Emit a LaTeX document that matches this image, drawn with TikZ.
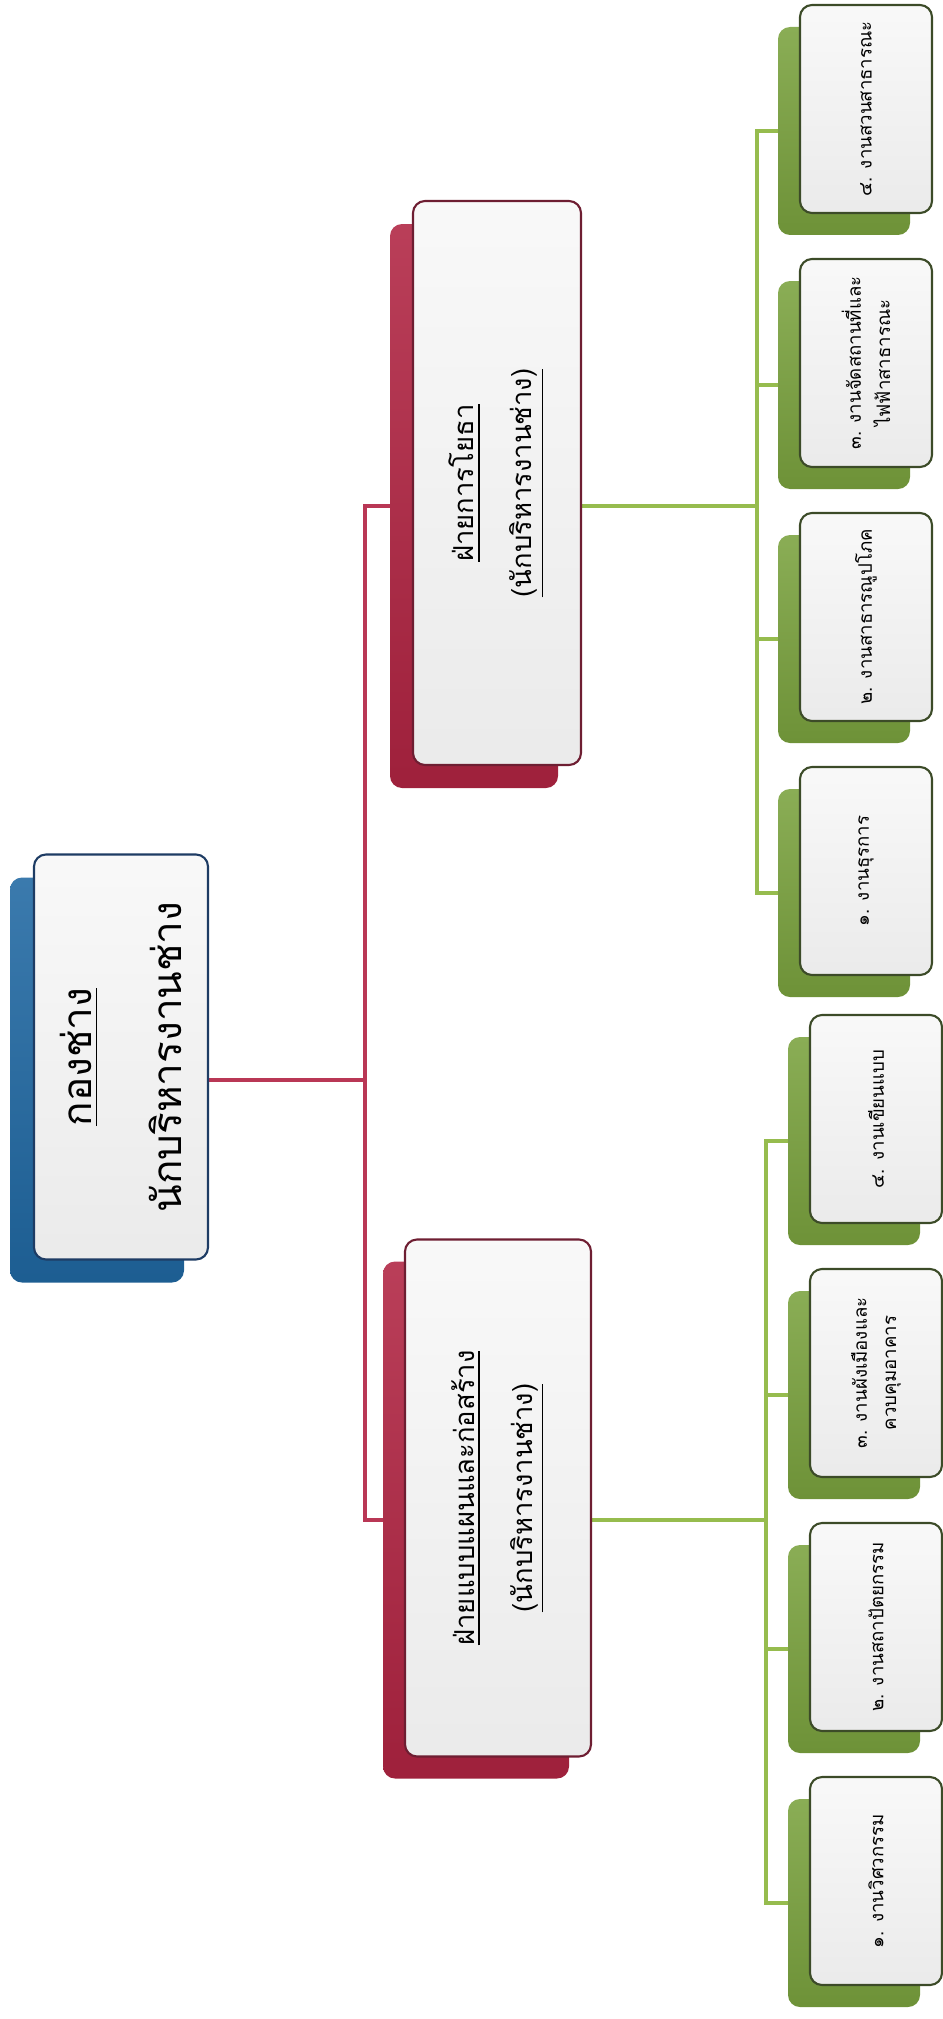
\documentclass[tikz,border=0pt]{standalone}
\usepackage{fontspec}
\setmainfont[Script=Thai]{Loma}
\usepackage{tikz}
\usetikzlibrary{positioning, backgrounds}
\definecolor{cardblue}{RGB}{32,104,162}
\definecolor{cardred}{RGB}{176,36,66}
\definecolor{cardgreen}{RGB}{122,162,62}
\definecolor{linered}{RGB}{185,55,85}
\definecolor{linegreen}{RGB}{150,188,78}
\definecolor{edgeblue}{RGB}{30,60,100}
\definecolor{edgered}{RGB}{110,30,50}
\definecolor{edgegreen}{RGB}{60,75,40}

\begin{document}
\begin{tikzpicture}[x=0.1mm, y=-0.1mm,
    backcard/.style={rectangle, rounded corners=1.2mm, rotate=90, inner sep=0pt,
      top color=#1!88!white, bottom color=#1!90!black},
    frontcard/.style={rectangle, rounded corners=1.2mm, rotate=90, inner sep=0pt,
      draw=#1, line width=0.6pt, top color=gray!5, bottom color=gray!16, align=center},
    rootsize/.style={minimum width=40.5mm, minimum height=17.4mm},
    armsize/.style={minimum width=#1, minimum height=17.4mm},
    jobsize/.style={minimum width=20.8mm, minimum height=13.2mm},
    armtext/.style={font=\fontsize{7.8}{16.5}\selectfont},
    jobtext/.style={font=\fontsize{5.3}{8.3}\selectfont}]
  \useasboundingbox (0,0) rectangle (942,2019);

  % Top box
  \node[backcard=cardblue, rootsize] (rootback) at (97,1080) {};
  \node[frontcard=edgeblue, rootsize, font=\fontsize{11.5}{25.6}\selectfont] (root) at (121,1057)
    {\underline{กองช่าง}\\นักบริหารงานช่าง};

  % Second level
  \node[backcard=cardred, armsize=56.4mm, minimum height=16.8mm] (yothaback) at (474,506) {};
  \node[frontcard=edgered, armsize=56.4mm, minimum height=16.8mm, armtext] (yotha) at (497,483)
    {\underline{ฝ่ายการโยธา}\\\underline{(นักบริหารงานช่าง)}};
  \node[backcard=cardred, armsize=51.7mm, minimum height=18.6mm] (planback) at (476,1520) {};
  \node[frontcard=edgered, armsize=51.7mm, minimum height=18.6mm, armtext] (plan) at (498,1498)
    {\underline{ฝ่ายแบบแผนและก่อสร้าง}\\\underline{(นักบริหารงานช่าง)}};

  % Work units under ฝ่ายการโยธา
  \foreach \n/\y/\txt in {1/871/{๑. งานธุรการ}, 2/617/{๒. งานสาธารณูปโภค},
      3/363/{๓. งานจัดสถานที่และ\\ไฟฟ้าสาธารณะ}, 4/109/{๔. งานสวนสาธารณะ}} {
    \node[backcard=cardgreen, jobsize] (ya\n back) at (844,\y+22) {};
    \node[frontcard=edgegreen, jobsize, jobtext] (ya\n) at (866,\y) {\txt};
  }

  % Work units under ฝ่ายแบบแผนและก่อสร้าง
  \foreach \n/\y/\txt in {1/1881/{๑. งานวิศวกรรม}, 2/1627/{๒. งานสถาปัตยกรรม},
      3/1373/{๓. งานผังเมืองและ\\ควบคุมอาคาร}, 4/1119/{๔. งานเขียนแบบ}} {
    \node[backcard=cardgreen, jobsize] (pl\n back) at (854,\y+22) {};
    \node[frontcard=edgegreen, jobsize, jobtext] (pl\n) at (876,\y) {\txt};
  }

  % Connectors
  \coordinate (rbus) at (365,1080);
  \coordinate (ybus) at (757,506);
  \coordinate (pbus) at (766,1520);
  \begin{scope}[on background layer]
    \draw[linered, line width=0.9pt] (rootback.center) -- (rbus) |- (yothaback.center);
    \draw[linered, line width=0.9pt] (rbus) |- (planback.center);
    \draw[linegreen, line width=1.1pt] (yothaback.center) -- (ybus);
    \draw[linegreen, line width=1.1pt] (planback.center) -- (pbus);
    \foreach \n in {1,...,4} {
      \draw[linegreen, line width=1.1pt] (ybus) |- (ya\n back.center);
      \draw[linegreen, line width=1.1pt] (pbus) |- (pl\n back.center);
    }
  \end{scope}
\end{tikzpicture}
\end{document}
